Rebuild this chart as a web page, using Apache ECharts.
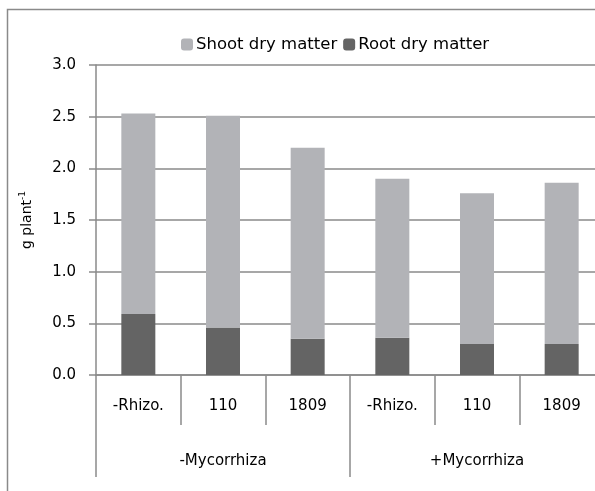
<!DOCTYPE html>
<html>
<head>
<meta charset="utf-8">
<script src="https://cdn.jsdelivr.net/npm/echarts@6/dist/echarts.min.js"></script>
<style>
  html, body { margin: 0; padding: 0; background: #fff; overflow: hidden; }
  #chart { width: 595px; height: 491px; }
</style>
</head>
<body>
<div id="chart"></div>
<script>
// data
const strains = ['-Rhizo.', '110', '1809', '-Rhizo.', '110', '1809']
const groups = ['-Mycorrhiza', '+Mycorrhiza']
const rootDry = [0.59, 0.46, 0.35, 0.36, 0.30, 0.30]
const shootDry = [1.94, 2.05, 1.85, 1.54, 1.46, 1.56]
const yTicks = [0, 0.5, 1.0, 1.5, 2.0, 2.5, 3.0]

const lineColor = '#8a8a8a'
const font = 'DejaVu Sans'

const chart = echarts.init(document.getElementById('chart'))

const option = {
  animation: false,
  textStyle: { fontFamily: font, color: '#000' },
  graphic: [
    {
      // chart area frame, cropped at right and bottom
      type: 'polyline',
      shape: { points: [[7.5, 495], [7.5, 9.5], [600, 9.5]] },
      style: { fill: null, stroke: lineColor, lineWidth: 1.5 },
      z: -1
    }
  ],
  legend: {
    top: 31,
    left: 176,
    itemWidth: 12,
    itemHeight: 12,
    itemGap: 6,
    textStyle: { fontSize: 16.5, fontFamily: font, color: '#000', padding: [0, 0, 0, -2] },
    data: ['Shoot dry matter', 'Root dry matter']
  },
  grid: {
    left: 96,
    right: -9,
    top: 65,
    bottom: 116,
    outerBoundsMode: 'none'
  },
  xAxis: [
    {
      type: 'category',
      data: strains,
      position: 'bottom',
      axisLine: { show: true, lineStyle: { color: lineColor, width: 1.5 } },
      axisTick: { show: true, length: 50, lineStyle: { color: lineColor, width: 1.5 } },
      axisLabel: { fontSize: 15, color: '#000', margin: 24 }
    },
    {
      type: 'category',
      data: groups,
      position: 'bottom',
      gridIndex: 0,
      axisLine: { show: false },
      axisTick: { show: true, length: 102, lineStyle: { color: lineColor, width: 1.5 } },
      axisLabel: { fontSize: 15, color: '#000', margin: 79 }
    }
  ],
  yAxis: {
    type: 'value',
    min: 0,
    max: 3,
    interval: 0.5,
    name: '{a|g plant}{b|-1}',
    nameLocation: 'middle',
    nameRotate: 90,
    nameGap: 60,
    nameTextStyle: {
      rich: {
        a: { fontSize: 14, fontFamily: font, color: '#000', lineHeight: 18 },
        b: { fontSize: 9, fontFamily: font, color: '#000', verticalAlign: 'top', lineHeight: 18 }
      }
    },
    axisLine: { show: true, lineStyle: { color: lineColor, width: 1.5 } },
    axisTick: { show: true, length: 7, lineStyle: { color: lineColor, width: 1.5 } },
    axisLabel: {
      fontSize: 15,
      color: '#000',
      margin: 20,
      formatter: v => yTicks.includes(v) ? v.toFixed(1) : ''
    },
    splitLine: { show: true, lineStyle: { color: lineColor, width: 1.5 } }
  },
  series: [
    {
      name: 'Root dry matter',
      type: 'bar',
      stack: 'dm',
      barWidth: 34,
      itemStyle: { color: '#646464' },
      data: rootDry
    },
    {
      name: 'Shoot dry matter',
      type: 'bar',
      stack: 'dm',
      barWidth: 34,
      itemStyle: { color: '#b2b3b7' },
      data: shootDry
    }
  ]
}

chart.setOption(option)
</script>
</body>
</html>
